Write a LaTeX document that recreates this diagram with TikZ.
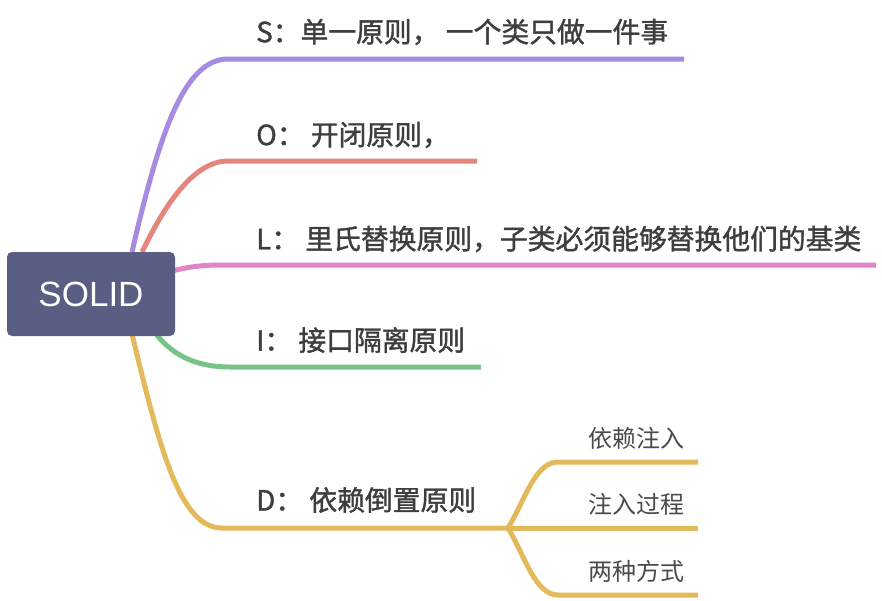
\documentclass[tikz,border=0pt]{standalone}
\usepackage{fontspec}
\setmainfont{Liberation Sans}
\newfontfamily\cjk{Noto Sans CJK SC}
\newfontfamily\cjkm{Noto Sans CJK SC}[FakeBold=1.4]
\usetikzlibrary{backgrounds}
\definecolor{rootc}{HTML}{5A5E82}
\definecolor{purp}{HTML}{A78BE0}
\definecolor{redc}{HTML}{E6847E}
\definecolor{pinkc}{HTML}{E086C8}
\definecolor{greenc}{HTML}{78C488}
\definecolor{yellc}{HTML}{E2B95B}
\definecolor{maintext}{HTML}{3E3E3E}
\definecolor{subtext}{HTML}{4A4A4A}
\begin{document}
\begin{tikzpicture}[x=1pt,y=-1pt,
  rootbox/.style={draw=none,fill=rootc,text=white,rounded corners=5pt,
    minimum width=168pt,minimum height=84pt,inner sep=0pt,
    font=\fontsize{35}{40}\selectfont},
  mainlabel/.style={anchor=west,inner sep=0pt,text=maintext,
    font=\cjkm\fontsize{27.8}{30}\selectfont},
  sublabel/.style={anchor=west,inner sep=0pt,text=subtext,
    font=\cjk\fontsize{24}{28}\selectfont},
  br/.style={line width=5pt,line cap=butt}
]
\useasboundingbox (0,0) rectangle (882,600);

\node[rootbox] (root) at (91,294) {SOLID};

\node[mainlabel] (s) at (256,32) {S：单一原则， 一个类只做一件事};
\node[mainlabel] (o) at (256,135) {O： 开闭原则，};
\node[mainlabel] (l) at (256,239) {L： 里氏替换原则，子类必须能够替换他们的基类};
\node[mainlabel] (i) at (256,340) {I： 接口隔离原则};
\node[mainlabel] (d) at (256,500) {D： 依赖倒置原则};

\node[sublabel] (d1) at (588,438) {依赖注入};
\node[sublabel] (d2) at (588,504) {注入过程};
\node[sublabel] (d3) at (588,571) {两种方式};

\coordinate (sS) at (132,252); \coordinate (eS) at (228,59); \coordinate (tS) at (684,59);
\coordinate (sO) at (142,252); \coordinate (eO) at (228,161); \coordinate (tO) at (477,161);
\coordinate (sL) at (172,271); \coordinate (eL) at (222,265); \coordinate (tL) at (876,265);
\coordinate (sI) at (156,334); \coordinate (eI) at (230,367); \coordinate (tI) at (481,367);
\coordinate (sD) at (132,334); \coordinate (eD) at (222,528); \coordinate (jD) at (508,528);
\coordinate (e1) at (558,462); \coordinate (t1) at (698,462);
\coordinate (t2) at (698,528);
\coordinate (e3) at (558,595); \coordinate (t3) at (698,595);

\begin{scope}[on background layer]
\draw[br,purp] (sS) .. controls (160,130) and (185,59) .. (eS) -- (tS);
\draw[br,redc] (sO) .. controls (160,215) and (190,161) .. (eO) -- (tO);
\draw[br,pinkc] (sL) .. controls (192,266) and (205,265) .. (eL) -- (tL);
\draw[br,greenc] (sI) .. controls (175,358) and (200,367) .. (eI) -- (tI);
\draw[br,yellc] (sD) .. controls (160,450) and (180,528) .. (eD) -- (jD);
\draw[br,yellc] (jD) .. controls (525,500) and (535,462) .. (e1) -- (t1);
\draw[br,yellc] (jD) -- (t2);
\draw[br,yellc] (jD) .. controls (525,556) and (535,595) .. (e3) -- (t3);
\end{scope}
\end{tikzpicture}
\end{document}
